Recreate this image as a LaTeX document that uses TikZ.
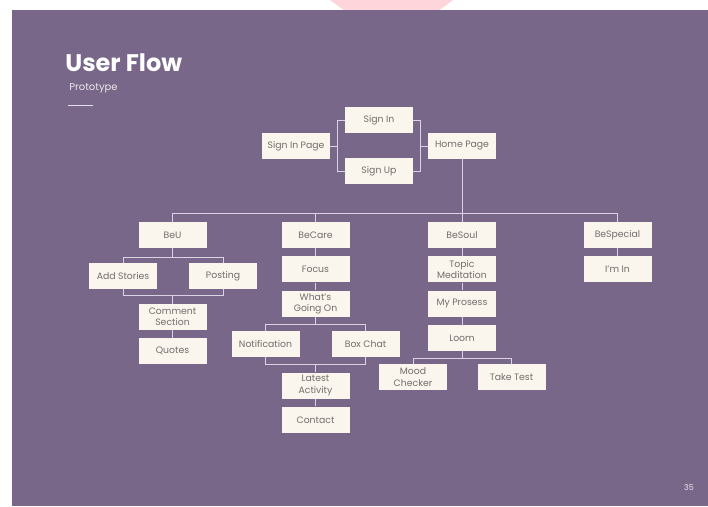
\documentclass[tikz,border=0pt]{standalone}
\usepackage{fontspec}
\setmainfont{Poppins}
\usetikzlibrary{chains,positioning}

\definecolor{slidebg}{RGB}{121,103,137}
\definecolor{boxfill}{RGB}{250,246,237}
\definecolor{boxtext}{RGB}{115,109,109}
\definecolor{flowline}{RGB}{220,210,230}
\definecolor{blush}{RGB}{253,213,218}

\begin{document}
\begin{tikzpicture}[x=1pt,y=-1pt]
    \tikzstyle{every path}=[line width=0.8pt]
    \tikzstyle{screen}=[fill=boxfill,text=boxtext,minimum width=68pt,
    minimum height=26pt,inner sep=1pt,align=center,
    font=\fontsize{9.3}{11.2}\selectfont]
    \tikzstyle{link}=[draw=flowline]

    %% Slide background
    \useasboundingbox (0,0) rectangle (708,506);
    \fill [white] (0,0) rectangle (708,506);
    \fill [blush] (330,0) -- (453,0) -- (392,45) -- cycle;
    \fill [slidebg] (12,10) rectangle (708,506);

    %% Title block
    \node [anchor=base west,inner sep=0,text=white,
    font=\fontsize{24}{24}\selectfont\bfseries] (title) at (65,71) {User Flow};
    \node [anchor=base west,inner sep=0,text=white!85!slidebg,
    font=\fontsize{10}{12}\selectfont] (subtitle) at (69,90) {Prototype};
    \draw [white!80!slidebg] (68,105) -- (93,105);
    \node [text=white!85!slidebg,font=\fontsize{8}{8}\selectfont] (pagenum) at (689,488) {35};

    %% Sign in row
    \node [screen] (signpage) at (296,146) {Sign In Page};
    \node [screen] (signin) at (379,120) {Sign In};
    \node [screen] (signup) at (379,171) {Sign Up};
    \node [screen] (home) at (462,146) {Home Page};

    %% BeU
    \node [screen] (beu) at (172.5,235) {BeU};
    \node [screen] (addst) at (123,276) {Add Stories};
    \node [screen] (posting) at (223,276) {Posting};
    \begin{scope}[start chain=u going below,node distance=7.5pt]
        \node [on chain=u,screen] at (172.5,317) (comment) {Comment\\Section};
        \node [on chain=u,screen] (quotes) {Quotes};
    \end{scope}

    %% BeCare
    \begin{scope}[start chain=care going below,node distance=7.5pt]
        \node [on chain=care,screen] at (315.5,235) (becare) {BeCare};
        \node [on chain=care,screen] (focus) {Focus};
        \node [on chain=care,screen] (whats) {What's\\Going On};
    \end{scope}
    \node [screen] (notif) at (265.5,344) {Notification};
    \node [screen] (boxchat) at (365.5,344) {Box Chat};
    \begin{scope}[start chain=act going below,node distance=7.5pt]
        \node [on chain=act,screen] at (315.5,385.5) (latest) {Latest\\Activity};
        \node [on chain=act,screen] (contact) {Contact};
    \end{scope}

    %% BeSoul
    \begin{scope}[start chain=soul going below,node distance=7.5pt]
        \node [on chain=soul,screen] at (462,235) (besoul) {BeSoul};
        \node [on chain=soul,screen] (topic) {Topic\\Meditation};
        \node [on chain=soul,screen] (prosess) {My Prosess};
        \node [on chain=soul,screen] (loom) {Loom};
    \end{scope}
    \node [screen] (mood) at (413,377) {Mood\\Checker};
    \node [screen] (taketest) at (511.5,377) {Take Test};

    %% BeSpecial
    \begin{scope}[start chain=special going below,node distance=7.5pt]
        \node [on chain=special,screen] at (617.5,235) (bespecial) {BeSpecial};
        \node [on chain=special,screen] (imin) {I'm In};
    \end{scope}

    %% Sign in links
    \draw [link] (signpage.east) -- ++(7,0) coordinate (splitl);
    \draw [link] (signin.west) -| (splitl) |- (signup.west);
    \draw [link] (home.west) -- ++(-7,0) coordinate (splitr);
    \draw [link] (signin.east) -| (splitr) |- (signup.east);

    %% Home page to sections
    \draw [link] (home.south) -- (besoul.north);
    \draw [link] (beu.north) -- ++(0,-8) -| (bespecial.north);
    \draw [link] (becare.north) -- ++(0,-8);

    %% BeU links
    \draw [link] (beu.south) -- ++(0,9) coordinate (ufork);
    \draw [link] (addst.north) |- (ufork) -| (posting.north);
    \draw [link] (comment.north) -- ++(0,-8) coordinate (ujoin);
    \draw [link] (addst.south) |- (ujoin) -| (posting.south);
    \draw [link] (comment) -- (quotes);

    %% BeCare links
    \draw [link] (becare) -- (focus);
    \draw [link] (focus) -- (whats);
    \draw [link] (whats.south) -- ++(0,7.5) coordinate (carefork);
    \draw [link] (notif.north) |- (carefork) -| (boxchat.north);
    \draw [link] (latest.north) -- ++(0,-8) coordinate (carejoin);
    \draw [link] (notif.south) |- (carejoin) -| (boxchat.south);
    \draw [link] (latest) -- (contact);

    %% BeSoul links
    \draw [link] (besoul) -- (topic);
    \draw [link] (topic) -- (prosess);
    \draw [link] (prosess) -- (loom);
    \draw [link] (loom.south) -- ++(0,7.5) coordinate (soulfork);
    \draw [link] (mood.north) |- (soulfork) -| (taketest.north);

    %% BeSpecial links
    \draw [link] (bespecial) -- (imin);
\end{tikzpicture}
\end{document}
